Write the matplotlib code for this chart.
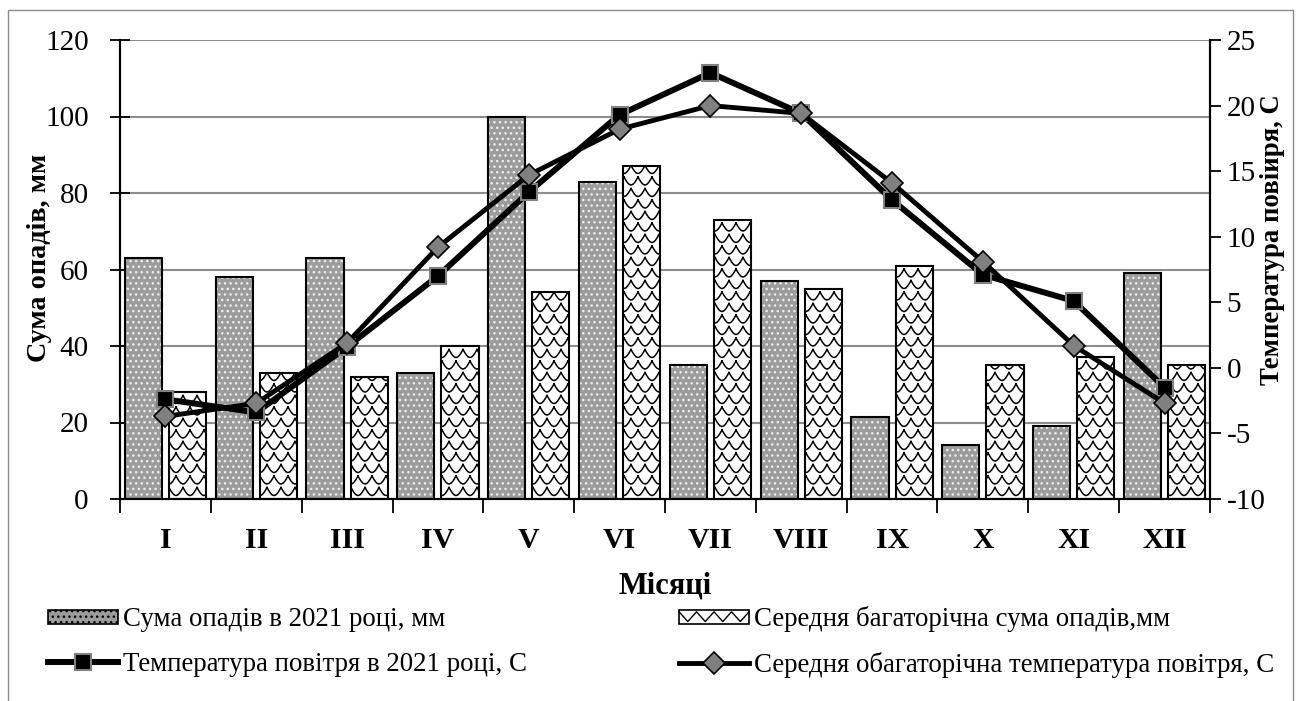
"""
Monthly precipitation and air temperature, 2021 vs long-term average.
"""
import numpy as np
import matplotlib
matplotlib.use("Agg")
import matplotlib.pyplot as plt
from matplotlib.patches import Patch, Rectangle
from matplotlib.lines import Line2D
from matplotlib.path import Path
from matplotlib.legend_handler import HandlerBase

plt.rcParams['font.family'] = ['Liberation Serif', 'DejaVu Serif']
plt.rcParams['axes.unicode_minus'] = False

months = ['I', 'II', 'III', 'IV', 'V', 'VI', 'VII', 'VIII', 'IX', 'X', 'XI', 'XII']
precip_2021 = [63, 58, 63, 33, 100, 83, 35, 57, 21.5, 14, 19, 59]
precip_avg = [28, 33, 32, 40, 54, 87, 73, 55, 61, 35, 37, 35]
temp_2021 = [-2.4, -3.4, 1.6, 7.0, 13.4, 19.3, 22.5, 19.4, 12.8, 7.1, 5.1, -1.5]
temp_avg = [-3.7, -2.7, 1.9, 9.2, 14.7, 18.2, 20.0, 19.4, 14.1, 8.1, 1.7, -2.7]

label_p21 = 'Сума опадів в 2021 році, мм'
label_pavg = 'Середня багаторічна сума опадів,мм'
label_t21 = 'Температура повітря в 2021 році, С'
label_tavg = 'Середня обагаторічна температура повітря, С'

DOT_FACE = '#9c9c9c'
DOT_COLOR = '#eeeeee'


class ZigzagHandler(HandlerBase):
    """Legend key for the fish-scale bars: a box with a zigzag inside."""

    def create_artists(self, legend, orig_handle, xdescent, ydescent,
                       width, height, fontsize, trans):
        x0, y0 = -xdescent, -ydescent
        box = Rectangle((x0, y0), width, height, facecolor='white',
                        edgecolor='black', linewidth=1.2, transform=trans)
        n = 4
        zx = np.linspace(x0, x0 + width, 2 * n + 1)
        zy = [y0 + height * (0.85 if i % 2 == 0 else 0.15) for i in range(2 * n + 1)]
        zig = Line2D(zx, zy, color='black', linewidth=1.0, transform=trans)
        return [box, zig]


fig = plt.figure(figsize=(13.0, 7.01), dpi=100)
ax = fig.add_axes([120 / 1300, 1 - 499 / 701, 1090 / 1300, 459 / 701])
ax2 = ax.twinx()

# outer frame of the whole chart
fig.patches.append(Rectangle((8 / 1300, -0.01), 1285 / 1300, 1 - 10 / 701 + 0.01,
                             transform=fig.transFigure, fill=False,
                             edgecolor='#8c8c8c', linewidth=1.0))

x = np.arange(len(months))
bw = 0.41
off = 0.243

# 2021 precipitation: gray dotted texture
ax.bar(x - off, precip_2021, bw, color=DOT_FACE, edgecolor=DOT_COLOR,
       hatch='...', linewidth=0, zorder=2)
ax.bar(x - off, precip_2021, bw, fill=False, edgecolor='black', linewidth=1.5, zorder=3)

# long-term precipitation: white bars with a fish-scale texture
avg_bars = ax.bar(x + off, precip_avg, bw, color='white', edgecolor='black',
                  linewidth=1.5, zorder=2)

ax_w, ax_h = 1090.0, 459.0
sw, sh = 14.0 / ax_w, 11.5 / ax_h
t = np.linspace(0, 1, 9)
xs, ys = [], []
for j, y0 in enumerate(np.arange(0, 1 + sh, sh)):
    shift = (j % 2) * sw / 2
    for x0 in np.arange(-sw, 1 + sw, sw):
        xs.extend(list(x0 + shift + t * sw) + [np.nan])
        ys.extend(list(y0 - 0.7 * sh * np.sin(np.pi * t)) + [np.nan])
scales = Line2D(xs, ys, transform=ax.transAxes, color='black', linewidth=1.1, zorder=2.5)
clip = Path.make_compound_path(*[b.get_path().transformed(b.get_patch_transform())
                                  for b in avg_bars])
ax.add_line(scales)
scales.set_clip_path(clip, ax.transData)

# temperature lines on the right axis
style_21 = dict(color='black', linewidth=4.3, marker='s', markersize=12,
                markerfacecolor='black', markeredgecolor='#808080', markeredgewidth=1.5)
style_avg = dict(color='black', linewidth=3.5, marker='D', markersize=11,
                 markerfacecolor='#808080', markeredgecolor='black', markeredgewidth=1.2)
ax2.plot(x, temp_2021, zorder=4, **style_21)
ax2.plot(x, temp_avg, zorder=5, **style_avg)

ax.set_xlim(-0.5, 11.5)
ax.set_ylim(0, 120)
ax.set_yticks(range(0, 121, 20))
ax2.set_ylim(-10, 25)
ax2.set_yticks(range(-10, 26, 5))

ax.yaxis.grid(True, color='#8c8c8c', linewidth=1.5)
ax.set_axisbelow(True)

ax.set_xticks(x)
ax.set_xticklabels(months, fontsize=21.5, fontweight='bold')
ax.set_xticks(np.arange(-0.5, 12, 1), minor=True)
ax.tick_params(axis='x', which='major', length=0, pad=20)
ax.tick_params(axis='x', which='minor', length=10, width=1.3, direction='out')
ax.tick_params(axis='y', labelsize=21, length=15, width=1.3, direction='inout', pad=15)
ax2.tick_params(axis='y', labelsize=21, length=8, width=1.3, direction='out', pad=4)

ax.spines['top'].set_visible(False)
ax2.spines['top'].set_visible(False)
for sp in ['left', 'bottom', 'right']:
    ax.spines[sp].set_linewidth(1.5)
    ax2.spines[sp].set_linewidth(1.5)

ax.set_xlabel('Місяці', fontsize=22, fontweight='bold', labelpad=13)
ax.set_ylabel('Сума опадів, мм', fontsize=20.3, fontweight='bold')
ax.yaxis.set_label_coords(-0.0624, 0.525)
ax2.set_ylabel('Температура повіиря, С', fontsize=19.3, fontweight='bold')
ax2.yaxis.set_label_coords(1.046, 0.564)

h_p21 = Patch(facecolor=DOT_FACE, edgecolor='black', hatch='...', linewidth=1.2)
h_pavg = Patch(facecolor='white', edgecolor='black')
h_t21 = Line2D([], [], **style_21)
h_tavg = Line2D([], [], **style_avg)

legend_kw = dict(loc='center left', frameon=False, fontsize=19.4, handlelength=2.6,
                 handleheight=0.42, handletextpad=0.2, labelspacing=0.72,
                 borderpad=0, borderaxespad=0)
fig.legend([h_p21, h_t21], [label_p21, label_t21],
           bbox_to_anchor=(48 / 1300, 1 - 642 / 701), **legend_kw)
fig.legend([h_pavg, h_tavg], [label_pavg, label_tavg],
           bbox_to_anchor=(679 / 1300, 1 - 642 / 701),
           handler_map={h_pavg: ZigzagHandler()}, **legend_kw)

fig.savefig('out.png', dpi=100)
